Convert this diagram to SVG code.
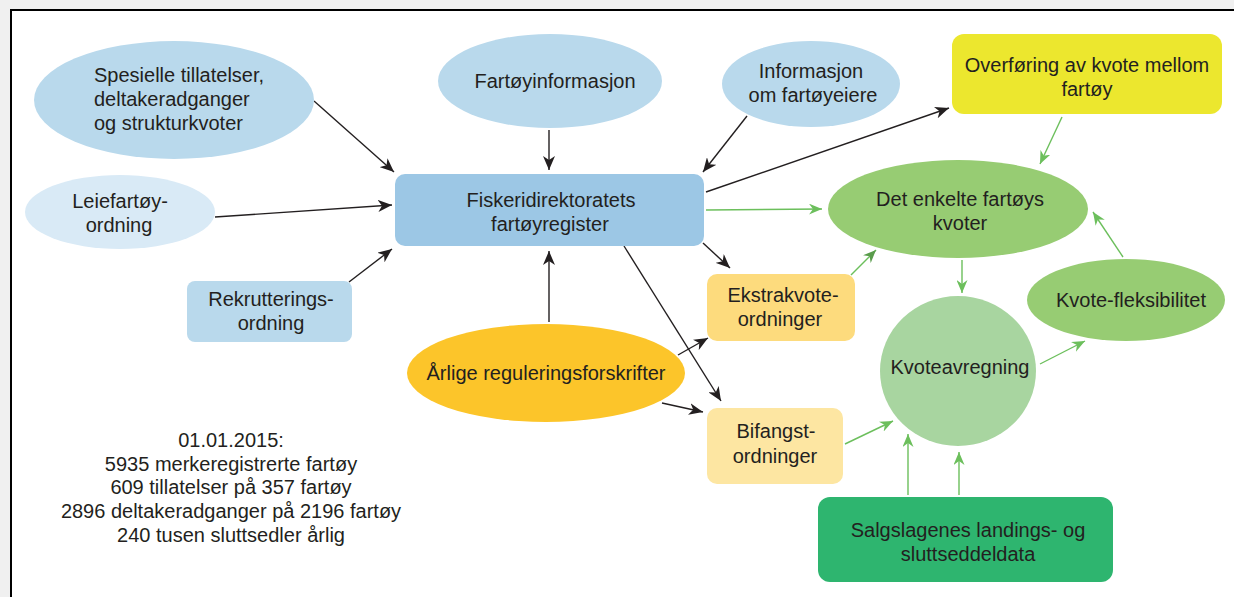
<svg xmlns="http://www.w3.org/2000/svg" width="1234" height="597" viewBox="0 0 1234 597">
<defs>
<style>
.t{font-family:"Liberation Sans",Arial,sans-serif;font-size:20px;fill:#231f20;text-anchor:middle}
.tl{font-family:"Liberation Sans",Arial,sans-serif;font-size:20px;fill:#231f20}
.k{stroke:#231f20;stroke-width:1.4;fill:none;marker-end:url(#ak)}
.g{stroke:#6cbf5c;stroke-width:1.4;fill:none;marker-end:url(#ag)}
</style>
<marker id="ak" viewBox="0 0 14 12" refX="14" refY="6" markerWidth="14" markerHeight="12" markerUnits="userSpaceOnUse" orient="auto">
<path d="M0,0 L14,6 L0,12 L4,6 z" fill="#231f20"/>
</marker>
<marker id="ag" viewBox="0 0 13 11" refX="13" refY="5.5" markerWidth="13" markerHeight="11" markerUnits="userSpaceOnUse" orient="auto">
<path d="M0,0 L13,5.5 L0,11 L4,5.5 z" fill="#6cbf5c"/>
</marker>
<marker id="ag2" viewBox="0 0 13 11" refX="13" refY="5.5" markerWidth="13" markerHeight="11" markerUnits="userSpaceOnUse" orient="auto">
<path d="M0,0 L13,5.5 L0,11 L4,5.5 z" fill="#5a9c4c"/>
</marker>
</defs>
<rect x="0" y="0" width="1234" height="597" fill="#f0f0f0"/>
<rect x="11" y="10" width="1240" height="600" fill="#ffffff" stroke="#000" stroke-width="2"/>

<g id="connectors">
<line class="k" x1="314" y1="101" x2="394" y2="172"/>
<line class="k" x1="215" y1="217" x2="392" y2="205"/>
<line class="k" x1="349" y1="282" x2="392" y2="249"/>
<line class="k" x1="549" y1="130" x2="549" y2="170"/>
<line class="k" x1="747" y1="116" x2="703" y2="172"/>
<line class="k" x1="706" y1="192" x2="949" y2="108"/>
<line class="k" x1="703" y1="243" x2="730" y2="268"/>
<line class="k" x1="624" y1="246" x2="721" y2="401"/>
<line class="k" x1="549" y1="322" x2="549" y2="251"/>
<line class="k" x1="678" y1="355" x2="708" y2="338"/>
<line class="k" x1="662" y1="403" x2="703" y2="412"/>
<line class="g" x1="706" y1="210" x2="822" y2="209"/>
<line class="g" x1="1062" y1="117" x2="1040" y2="164"/>
<line class="g" x1="851" y1="275" x2="876" y2="250" style="marker-end:url(#ag2)"/>
<line class="g" x1="962" y1="260" x2="962" y2="293"/>
<line class="g" x1="1123" y1="257" x2="1093" y2="212"/>
<line class="g" x1="1040" y1="364" x2="1085" y2="341"/>
<line class="g" x1="845" y1="444" x2="893" y2="421"/>
<line class="g" x1="908" y1="495" x2="908" y2="434"/>
<line class="g" x1="959" y1="495" x2="959" y2="452"/>
</g>

<g id="spesielle">
<ellipse cx="174" cy="100" rx="140" ry="59" fill="#b9d9ec"/>
<text class="tl" x="94" y="82">Spesielle tillatelser,</text>
<text class="tl" x="94" y="106">deltakeradganger</text>
<text class="tl" x="94" y="130">og strukturkvoter</text>
</g>
<g id="leiefartoy">
<ellipse cx="120" cy="212" rx="95" ry="37" fill="#d9eaf6"/>
<text class="t" x="120" y="208">Leiefartøy-</text>
<text class="t" x="119" y="232">ordning</text>
</g>
<g id="rekruttering">
<rect x="187" y="281" width="165" height="61" rx="8" fill="#b9d9ec"/>
<text class="t" x="271" y="306">Rekrutterings-</text>
<text class="t" x="271" y="330">ordning</text>
</g>
<g id="fartoyinfo">
<ellipse cx="550" cy="81" rx="112" ry="47" fill="#b9d9ec"/>
<text class="t" x="555" y="88">Fartøyinformasjon</text>
</g>
<g id="fartoyeiere">
<ellipse cx="811" cy="84" rx="89" ry="43" fill="#b9d9ec"/>
<text class="t" x="811" y="78">Informasjon</text>
<text class="t" x="813" y="102">om fartøyeiere</text>
</g>
<g id="fiskeridir">
<rect x="395" y="174" width="309" height="72" rx="10" fill="#9cc7e5"/>
<text class="t" x="551" y="207">Fiskeridirektoratets</text>
<text class="t" x="550" y="231">fartøyregister</text>
</g>
<g id="overforing">
<rect x="952" y="34" width="270" height="80" rx="12" fill="#ece72e"/>
<text class="t" x="1087" y="72">Overføring av kvote mellom</text>
<text class="t" x="1087" y="96">fartøy</text>
</g>
<g id="kvoter">
<ellipse cx="958" cy="209" rx="130" ry="49" fill="#97cc73"/>
<text class="t" x="960" y="206">Det enkelte fartøys</text>
<text class="t" x="960" y="230">kvoter</text>
</g>
<g id="fleksibilitet">
<ellipse cx="1126" cy="300" rx="99" ry="41" fill="#97cc73"/>
<text class="t" x="1131" y="307">Kvote-fleksibilitet</text>
</g>
<g id="kvoteavregning">
<ellipse cx="958" cy="371" rx="78" ry="75" fill="#a8d5a0"/>
<text class="t" x="960" y="374">Kvoteavregning</text>
</g>
<g id="salgslag">
<rect x="818" y="497" width="295" height="85" rx="12" fill="#2eb56f"/>
<text class="t" x="968" y="537">Salgslagenes landings- og</text>
<text class="t" x="968" y="561">sluttseddeldata</text>
</g>
<g id="ekstrakvote">
<rect x="707" y="274" width="148" height="67" rx="10" fill="#fddb7d"/>
<text class="t" x="783" y="302">Ekstrakvote-</text>
<text class="t" x="780" y="326">ordninger</text>
</g>
<g id="bifangst">
<rect x="707" y="408" width="136" height="76" rx="10" fill="#fde6a2"/>
<text class="t" x="776" y="438">Bifangst-</text>
<text class="t" x="775" y="463">ordninger</text>
</g>
<g id="arlige">
<ellipse cx="546" cy="373" rx="139" ry="49" fill="#fcc52a"/>
<text class="t" x="546" y="380">Årlige reguleringsforskrifter</text>
</g>
<g id="statistikk">
<text class="t" x="231" y="447">01.01.2015:</text>
<text class="t" x="231" y="471">5935 merkeregistrerte fartøy</text>
<text class="t" x="231" y="494">609 tillatelser på 357 fartøy</text>
<text class="t" x="231" y="518">2896 deltakeradganger på 2196 fartøy</text>
<text class="t" x="231" y="542">240 tusen sluttsedler årlig</text>
</g>
</svg>
